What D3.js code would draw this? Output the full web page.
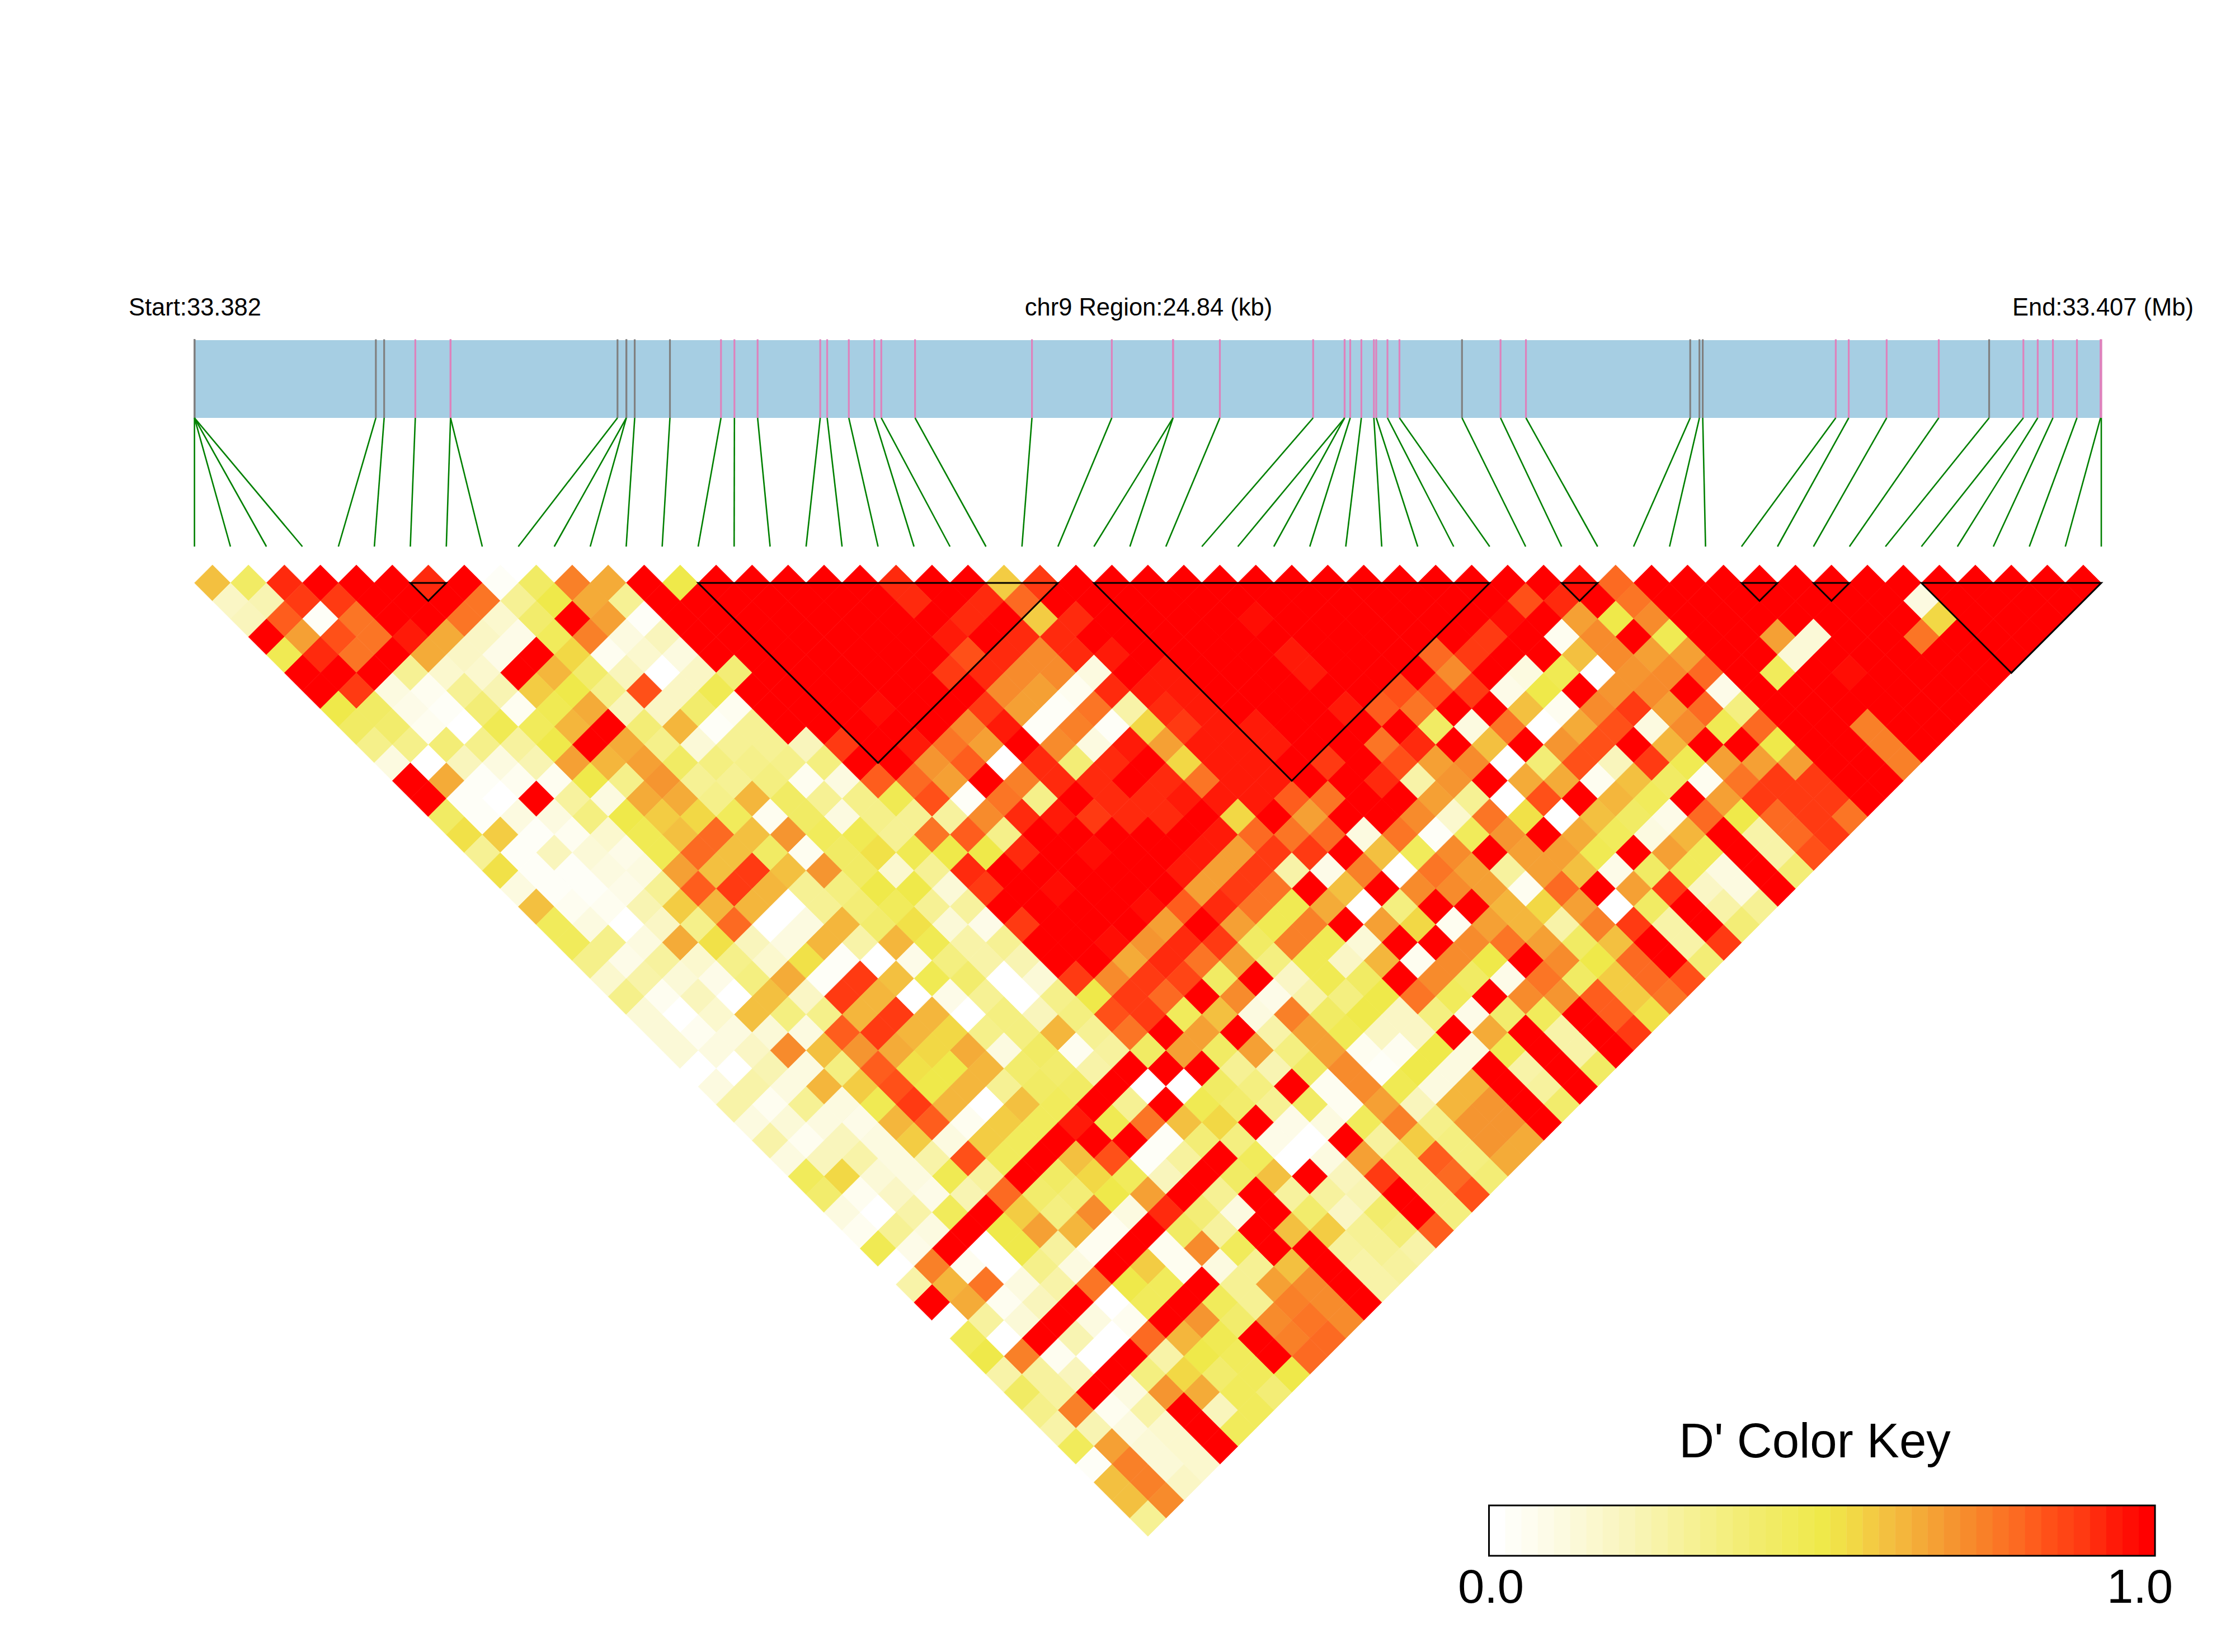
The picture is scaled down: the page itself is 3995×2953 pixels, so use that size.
<!DOCTYPE html>
<html><head><meta charset="utf-8">
<script src="https://cdn.jsdelivr.net/npm/d3@7/dist/d3.min.js"></script>
<style>html,body{margin:0;padding:0;background:#fff}svg{display:block}text{font-family:"Liberation Sans",Arial,sans-serif;fill:#000}</style>
</head><body><div id="chart"></div>
<script>
const R=100;
// SNP positions (kb from region start) and their class (g = grey tick, p = pink tick)
const snpKb=[0,0,0,0,2.363,2.471,2.877,3.336,3.336,5.511,5.626,5.626,5.735,6.194,6.859,7.034,7.336,8.152,8.242,8.524,8.856,8.947,9.387,10.910,11.950,12.748,12.748,13.358,14.573,14.983,14.983,15.056,15.201,15.364,15.395,15.541,15.697,16.512,17.014,17.345,19.485,19.605,19.648,21.381,21.550,22.044,22.723,23.379,23.825,24.012,24.210,24.523,24.830,24.840];
const snpClass=["g","g","g","g","g","g","p","p","p","g","g","g","g","g","p","p","p","p","p","p","p","p","p","p","p","p","p","p","p","p","p","p","p","p","p","p","p","g","p","p","g","g","g","p","p","p","p","g","p","p","p","p","p","p"];
// LD blocks as [first SNP, last SNP]
const blocks=[[6,7],[14,24],[25,36],[38,39],[43,44],[45,46],[48,53]];
const labelStart="Start:33.382",labelMid="chr9 Region:24.84 (kb)",labelEnd="End:33.407 (Mb)";
const keyTitle="D' Color Key",keyLabels=["0.0","1.0"];
const keyStops=[0,.1,.2,.3,.4,.5,.55,.6,.65,.7,.75,.8,.85,.9,.95,1];
const keyColors=["#ffffff","#fcfae0","#f9f5bc","#f6f194","#f2ec6c","#efe94a","#f2d845","#f3c040","#f4ab38","#f59530","#f98028","#fc6a22","#ff5018","#ff3a12","#ff1a08","#ff0000"];
// D' x 100 by SNP pair, one list per lag (distance in SNP index)
const lag1=[60,42,92,100,100,100,92,100,3,42,75,65,100,50,R,R,R,R,R,92,100,100,58,90,100,100,100,R,R,R,R,R,R,R,R,R,100,100,97,80,100,R,R,R,R,R,R,R,R,R,R,R,R];
const lag2=[18,22,88,88,100,100,100,78,30,50,65,30,100,100,R,R,R,R,R,92,100,92,80,100,100,R,R,R,R,R,R,R,R,R,R,R,85,92,100,78,100,R,R,R,R,R,R,10,100,100,100,100];
const lag3=[20,82,3,78,100,100,78,15,40,100,68,3,100,100,R,R,R,R,R,R,92,100,58,92,100,R,R,R,97,R,R,R,R,R,R,97,100,68,50,72,R,R,R,R,R,R,R,55,100,100,100];
const lag4=[100,68,85,78,95,65,18,8,45,75,10,20,R,R,R,R,R,R,R,94,100,92,92,100,100,R,R,R,R,R,R,R,R,R,88,100,5,72,100,48,100,100,68,14,100,100,78,100,100,100];
const lag5=[48,92,78,100,65,18,8,100,55,5,15,10,R,R,R,R,R,R,R,85,92,72,92,93,100,100,100,100,94,100,100,100,80,88,100,100,60,72,68,68,100,100,14,R,R,R,R,R,R];
const lag6=[100,100,100,30,15,15,100,62,40,20,0,18,38,100,100,100,100,98,88,92,72,72,12,100,93,100,100,100,94,100,100,100,72,100,10,48,0,70,72,80,100,45,100,97,100,100,100,100];
const lag7=[100,90,12,5,30,22,58,50,32,83,18,48,R,R,R,R,R,R,R,72,68,5,92,93,93,R,R,R,R,R,85,85,88,8,50,100,70,72,100,8,R,R,R,R,R,R,R];
const lag8=[50,42,8,3,38,5,47,65,20,18,40,5,100,100,100,97,100,100,88,68,4,78,25,92,93,100,100,100,94,82,78,100,100,60,5,72,88,68,80,35,R,R,R,R,R,R];
const lag9=[42,40,7,0,48,45,62,100,38,62,4,30,R,R,R,R,R,72,95,4,75,4,55,88,93,94,100,100,100,100,42,12,78,0,65,85,10,72,47,80,100,100,75,100,100];
const lag10=[32,32,38,32,28,50,100,65,32,14,30,30,20,88,100,94,78,68,100,72,12,93,68,93,93,94,100,100,78,92,100,60,100,70,85,100,62,100,100,50,100,100,75,100];
const lag11=[12,0,20,12,22,68,62,68,42,35,32,33,35,100,100,70,82,0,92,38,92,100,55,93,93,100,90,100,85,66,72,0,38,85,20,88,47,68,68,66,100,100,75];
const lag12=[100,65,4,5,5,50,32,70,30,30,35,5,12,82,80,66,100,75,92,92,100,92,78,93,93,100,100,92,25,70,100,65,65,5,60,42,6,78,90,88,100,100];
const lag13=[100,3,0,100,28,10,65,65,32,62,42,30,32,48,85,3,78,32,100,92,92,93,93,93,82,78,100,100,68,30,2,85,100,62,45,100,68,88,88,88,100];
const lag14=[42,3,12,12,35,50,58,55,45,5,42,12,32,30,28,72,92,95,88,92,92,100,55,100,68,100,100,72,15,78,52,2,60,42,8,80,50,80,88,78];
const lag15=[52,58,3,5,15,47,60,80,60,70,45,48,30,78,82,32,100,100,100,100,100,93,80,78,80,12,78,3,45,70,100,65,45,10,62,100,25,80,88];
const lag16=[30,3,20,14,8,47,80,60,42,5,42,52,48,50,50,92,100,97,100,100,93,68,88,90,100,60,45,72,100,68,68,48,100,68,45,100,25,84];
const lag17=[52,3,3,10,10,68,60,88,60,70,42,15,30,92,100,100,100,100,100,95,66,88,25,8,75,0,78,68,28,68,60,8,42,45,10,100,38];
const lag18=[12,3,3,8,30,82,88,62,30,35,50,50,14,88,100,97,100,100,100,68,88,78,100,60,100,72,72,68,6,80,100,66,88,18,12,100];
const lag19=[60,6,5,22,58,62,62,0,30,38,45,30,28,100,100,100,100,96,82,92,78,48,65,0,35,100,100,62,55,68,0,42,100,25,30];
const lag20=[45,12,0,18,32,80,0,10,62,40,52,14,8,88,100,100,100,68,100,66,48,74,100,68,55,5,68,62,25,74,88,25,100,38];
const lag21=[45,33,12,65,52,20,10,62,25,62,47,25,30,100,100,96,70,92,90,42,74,48,14,100,100,72,78,68,42,60,100,25,88];
const lag22=[32,8,28,15,33,15,52,3,0,8,35,25,22,100,100,65,92,78,66,35,47,18,62,5,72,50,100,72,50,80,100,38];
const lag23=[15,25,14,8,35,65,3,90,60,48,40,0,14,88,72,90,86,42,100,18,47,42,100,72,42,8,78,42,58,80,85];
const lag24=[33,5,20,2,60,18,90,62,0,8,30,0,33,50,88,80,100,72,8,25,35,50,78,45,100,72,70,82,58,78];
const lag25=[14,0,15,60,35,32,62,88,62,0,35,20,35,85,88,45,60,10,75,42,50,18,35,8,40,45,100,82,52];
const lag26=[14,5,12,14,10,82,88,62,55,33,35,62,30,78,100,66,100,25,68,48,18,18,100,65,100,25,100,88];
const lag27=[14,12,18,72,60,70,65,55,65,10,42,5,28,42,68,42,68,35,68,5,5,50,10,48,100,25,100];
const lag28=[2,2,22,12,35,82,52,50,62,40,40,25,100,100,100,30,22,42,72,3,50,12,100,25,100,42];
const lag29=[12,25,12,62,58,85,50,62,30,42,42,100,0,0,42,35,100,6,72,48,10,62,100,28,100];
const lag30=[25,6,30,12,48,88,62,0,60,45,100,30,100,48,40,30,42,6,68,20,62,70,100,40];
const lag31=[12,14,12,8,62,82,5,58,45,93,48,78,60,55,100,8,10,45,75,32,70,70,100];
const lag32=[25,6,20,12,58,10,58,45,100,100,100,3,38,35,8,0,100,28,58,35,70,65];
const lag33=[10,20,25,12,25,85,45,100,60,85,3,28,100,45,0,10,68,35,82,35,65];
const lag34=[45,55,14,10,48,28,100,42,55,45,20,100,42,60,100,20,88,35,80,38];
const lag35=[40,5,18,8,22,80,40,38,50,68,100,30,100,28,28,22,100,35,85];
const lag36=[12,0,25,45,100,58,35,72,12,92,38,10,100,40,18,40,100,35];
const lag37=[5,30,10,100,50,68,62,6,100,42,28,100,60,58,30,38,82];
const lag38=[47,8,100,0,50,28,6,100,5,72,45,100,100,28,30,25];
const lag39=[0,75,5,0,32,10,100,58,5,12,30,60,100,25,28];
const lag40=[25,62,78,10,25,78,50,45,100,30,68,72,100,25];
const lag41=[100,65,5,20,100,0,45,100,45,30,75,72,100];
const lag42=[2,28,14,100,12,5,100,70,40,72,78,72];
const lag43=[45,0,100,22,0,80,62,48,100,74,80];
const lag44=[50,75,5,0,100,25,50,45,100,80];
const lag45=[25,28,20,100,35,55,40,45,50];
const lag46=[42,28,100,12,70,65,45,38];
const lag47=[32,75,5,25,100,20,45];
const lag48=[25,22,12,15,100,45];
const lag49=[45,68,14,15,100];
const lag50=[3,75,14,15];
const lag51=[60,75,18];
const lag52=[60,72];
const lag53=[30];
const lagLists=[lag1,lag2,lag3,lag4,lag5,lag6,lag7,lag8,lag9,lag10,lag11,lag12,lag13,lag14,lag15,lag16,lag17,lag18,lag19,lag20,lag21,lag22,lag23,lag24,lag25,lag26,lag27,lag28,lag29,lag30,lag31,lag32,lag33,lag34,lag35,lag36,lag37,lag38,lag39,lag40,lag41,lag42,lag43,lag44,lag45,lag46,lag47,lag48,lag49,lag50,lag51,lag52,lag53];

const W=3995,H=2953,nSnp=snpKb.length;
const svg=d3.select("#chart").append("svg").attr("width",W).attr("height",H).attr("viewBox",[0,0,W,H]);
const left=347.6,right=3756;
const xKb=d3.scaleLinear().domain([0,24.84]).range([left,right]);
const xIdx=d3.scaleLinear().domain([0,nSnp-1]).range([left,right]);
const half=(xIdx(1)-xIdx(0))/2;
const yLag=d3.scaleLinear().domain([1,53]).range([1042,1042+52*half]);
const nSteps=41;
const ramp=d3.scaleLinear().domain(keyStops).range(keyColors).interpolate(d3.interpolateRgb);
const palette=d3.range(nSteps).map(k=>ramp(k/(nSteps-1)));
const colorOf=d3.scaleQuantize().domain([0,1]).range(palette);

// gene bar and SNP ticks
const barTop=608,barBottom=747,linkBottom=977;
svg.append("rect").attr("x",left).attr("y",barTop).attr("width",right-left).attr("height",barBottom-barTop).attr("fill","#a6cee3");
const snps=snpKb.map((kb,i)=>({kb,i,cls:snpClass[i]}));
svg.append("g").selectAll("line").data(snps).join("line")
  .attr("x1",d=>xKb(d.kb)).attr("x2",d=>xKb(d.kb)).attr("y1",606.5).attr("y2",barBottom)
  .attr("stroke",d=>d.cls==="g"?"#808080":"#de82bc").attr("stroke-width",3.2);
svg.append("g").selectAll("line").data(snps).join("line")
  .attr("x1",d=>xKb(d.kb)).attr("x2",d=>xIdx(d.i)).attr("y1",barBottom).attr("y2",linkBottom)
  .attr("stroke","#008000").attr("stroke-width",2.6);

// heat map cells, drawn so that the colour bleeds over the hairline between neighbours
const cells=lagLists.flatMap((row,k)=>row.map((v,i)=>({lag:k+1,i,v:v/100})));
svg.append("g").selectAll("path").data(cells).join("path")
  .attr("d",d=>{const cx=xIdx(d.i+d.lag/2),cy=yLag(d.lag);
    return `M${cx},${cy-half}L${cx+half},${cy}L${cx},${cy+half}L${cx-half},${cy}Z`;})
  .attr("fill",d=>colorOf(d.v)).attr("stroke",d=>colorOf(d.v)).attr("stroke-width",0.7);

// LD blocks
svg.append("g").selectAll("path").data(blocks).join("path")
  .attr("d",([a,b])=>`M${xIdx(a)},${yLag(1)}L${xIdx(b)},${yLag(1)}L${xIdx((a+b)/2)},${yLag(1)+(b-a)*half}Z`)
  .attr("fill","none").attr("stroke","#000").attr("stroke-width",3).attr("stroke-linejoin","miter");

// header labels
const headFont=43.5,headBase=564;
svg.append("text").attr("x",230).attr("y",headBase).attr("font-size",headFont).text(labelStart);
svg.append("text").attr("x",2053).attr("y",headBase).attr("font-size",headFont).attr("text-anchor","middle").text(labelMid);
svg.append("text").attr("x",3921).attr("y",headBase).attr("font-size",headFont).attr("text-anchor","end").text(labelEnd);

// colour key
const keyX=d3.scaleLinear().domain([0,nSteps]).range([2661.5,3852]);
const keyY0=2691,keyY1=2781;
svg.append("g").selectAll("rect").data(palette).join("rect")
  .attr("x",(d,k)=>keyX(k)).attr("y",keyY0).attr("width",keyX(1)-keyX(0)+.4).attr("height",keyY1-keyY0).attr("fill",d=>d);
svg.append("rect").attr("x",keyX(0)).attr("y",keyY0).attr("width",keyX(nSteps)-keyX(0)).attr("height",keyY1-keyY0)
  .attr("fill","none").attr("stroke","#000").attr("stroke-width",3);
svg.append("text").attr("x",3244).attr("y",2605).attr("font-size",87).attr("text-anchor","middle").text(keyTitle);
svg.append("text").attr("x",2665).attr("y",2865).attr("font-size",85).attr("text-anchor","middle").text(keyLabels[0]);
svg.append("text").attr("x",3825).attr("y",2865).attr("font-size",85).attr("text-anchor","middle").text(keyLabels[1]);
</script></body></html>
